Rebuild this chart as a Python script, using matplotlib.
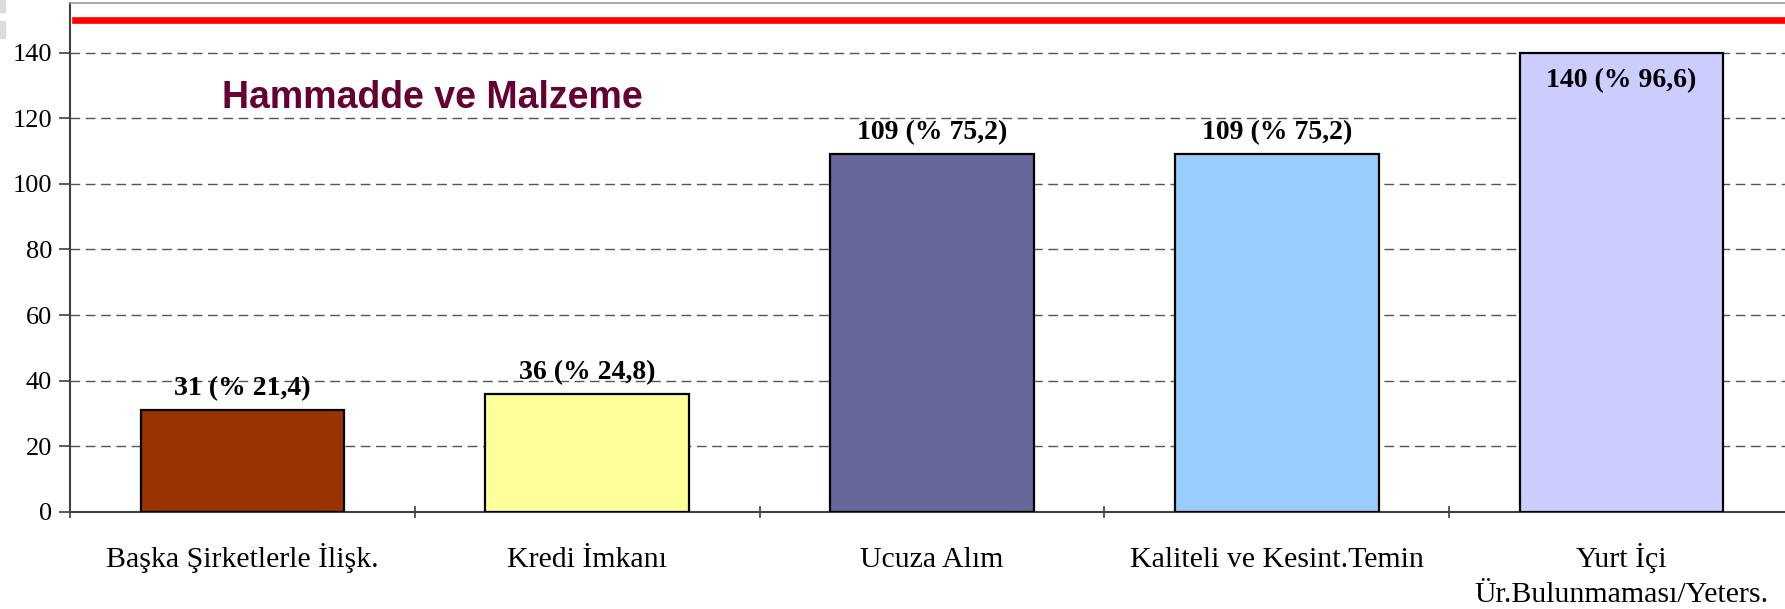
import numpy as np
import matplotlib.pyplot as plt
from matplotlib.patches import Rectangle
from matplotlib.transforms import ScaledTranslation

# data
categories = ["Başka Şirketlerle İlişk.", "Kredi İmkanı", "Ucuza Alım",
              "Kaliteli ve Kesint.Temin", "Yurt İçi\nÜr.Bulunmaması/Yeters."]
counts = [31, 36, 109, 109, 140]
percents = ["21,4", "24,8", "75,2", "75,2", "96,6"]
bar_colors = ["#993300", "#FFFF99", "#666699", "#99CCFF", "#CCCCFF"]
ref_level = 150
title = "Hammadde ve Malzeme"

serif = "Liberation Serif"

fig = plt.figure(figsize=(17.85, 6.09), dpi=100)
ax = fig.add_axes([70 / 1785, 1 - 512 / 609, 1724 / 1785, 508.7 / 609])

x = np.arange(len(categories))
ax.bar(x, counts, width=0.59, color=bar_colors, edgecolor="black",
       linewidth=1.6, zorder=3)

ax.set_xlim(-0.5, len(categories) - 0.5)
ax.set_ylim(0, 155)

# value labels, the last one goes inside the bar
for xi, c, p in zip(x, counts, percents):
    if c + 20 < ax.get_ylim()[1]:
        y = c + 6.6
    else:
        y = c - 8.5
    ax.text(xi, y, f"{c} (% {p})", ha="center", va="center",
            fontsize=20, fontweight="bold", family=serif, zorder=4)

# red reference line
ax.axhline(ref_level, xmin=0.003, xmax=1, color="red", linewidth=4.8, zorder=4)

ax.text(0.55, 126, title, ha="center", va="center", fontsize=27,
        fontweight="bold", family="Liberation Sans", color="#660033")

# gridlines
ax.set_yticks(np.arange(0, 141, 20))
ax.yaxis.grid(True, linestyle=(0, (7, 4)), color="#555555", linewidth=1)
ax.set_axisbelow(True)

# category labels: each line on a fixed baseline below the axis
ax.set_xticks(x)
ax.set_xticklabels([])
for xi, name in zip(x, categories):
    for i, line in enumerate(name.split("\n")):
        off = ScaledTranslation(0, -(55 + 35 * i) / 100, fig.dpi_scale_trans)
        ax.text(xi, 0, line, transform=ax.get_xaxis_transform() + off,
                ha="center", va="baseline", family=serif, fontsize=21.5,
                clip_on=False)

ax.set_xticks(np.arange(-0.5, len(categories)), minor=True)
ax.tick_params(axis="x", which="major", length=0)
ax.tick_params(axis="x", which="minor", length=9, width=1.2, color="#404040",
               direction="inout")
ax.tick_params(axis="y", length=8, width=1.2, color="#404040", pad=5,
               labelsize=19)
for lab in ax.get_yticklabels():
    lab.set_family(serif)

for side in ("left", "bottom"):
    ax.spines[side].set_color("#404040")
    ax.spines[side].set_linewidth(1.5)
ax.spines["top"].set_color("#999999")
ax.spines["top"].set_linewidth(1.2)
ax.spines["right"].set_visible(False)

# small grey tabs in the top-left corner
fig.patches.append(Rectangle((0, 1 - 12 / 609), 5 / 1785, 12 / 609,
                             transform=fig.transFigure, color="#dcdcdc"))
fig.patches.append(Rectangle((0, 1 - 38 / 609), 5 / 1785, 17 / 609,
                             transform=fig.transFigure, color="#dcdcdc"))

fig.savefig("out.png", dpi=100)
